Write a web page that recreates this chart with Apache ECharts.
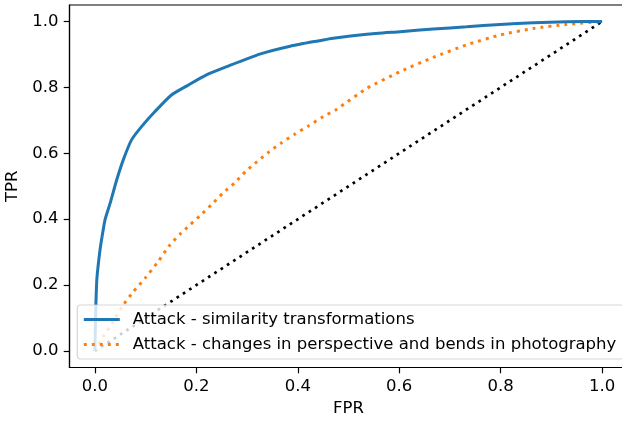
<!DOCTYPE html>
<html>
<head>
<meta charset="utf-8">
<script src="https://cdn.jsdelivr.net/npm/echarts@6/dist/echarts.min.js"></script>
<style>html,body{margin:0;padding:0;background:#fff;}#c{width:622px;height:421px;}</style>
</head>
<body>
<div id="c"></div>
<script>
const tickValues = [0, 0.2, 0.4, 0.6, 0.8, 1.0];
const seriesNames = ['Attack - similarity transformations', 'Attack - changes in perspective and bends in photography'];

const fprSim = [0, 0.001, 0.002, 0.004, 0.010, 0.014, 0.020, 0.030, 0.043, 0.056, 0.072, 0.092, 0.118, 0.151, 0.184, 0.220, 0.260, 0.325, 0.385, 0.440, 0.470, 0.536, 0.602, 0.667, 0.733, 0.799, 0.865, 0.930, 1.0];
const tprSim = [0, 0.07, 0.14, 0.22, 0.305, 0.345, 0.398, 0.448, 0.519, 0.580, 0.640, 0.681, 0.726, 0.777, 0.807, 0.838, 0.863, 0.901, 0.925, 0.941, 0.949, 0.961, 0.969, 0.977, 0.984, 0.991, 0.996, 0.999, 1.0];

const fprPersp = [0, 0.016, 0.036, 0.056, 0.076, 0.099, 0.125, 0.146, 0.168, 0.187, 0.209, 0.231, 0.253, 0.276, 0.298, 0.320, 0.344, 0.368, 0.394, 0.421, 0.450, 0.477, 0.536, 0.602, 0.667, 0.733, 0.799, 0.865, 0.930, 1.0];
const tprPersp = [0, 0.043, 0.089, 0.140, 0.180, 0.221, 0.272, 0.318, 0.355, 0.382, 0.413, 0.446, 0.480, 0.511, 0.546, 0.575, 0.605, 0.632, 0.658, 0.683, 0.711, 0.734, 0.797, 0.848, 0.891, 0.929, 0.959, 0.979, 0.991, 1.0];

const fprChance = [0, 1];
const tprChance = [0, 1];

const zip = (a, b) => a.map((v, i) => [v, b[i]]);
const font = 'DejaVu Sans';
const fs = 16.5;

const chart = echarts.init(document.getElementById('c'), null, {renderer: 'canvas'});
chart.setOption({
  animation: false,
  backgroundColor: '#fff',
  grid: {left: 69.5, top: 5, width: 558, height: 362.5, show: true, borderColor: '#000', borderWidth: 1.2, backgroundColor: 'transparent', outerBoundsMode: 'none', containLabel: false},
  xAxis: {
    type: 'value', min: -0.05, max: 1.05,
    name: 'FPR', nameLocation: 'middle', nameGap: 33,
    nameTextStyle: {fontFamily: font, fontSize: fs, color: '#000'},
    axisLine: {show: true, onZero: false, lineStyle: {color: '#000', width: 1.2}},
    axisTick: {show: true, length: 5.8, customValues: tickValues, lineStyle: {color: '#000', width: 1.2}},
    axisLabel: {customValues: tickValues, margin: 11, fontFamily: font, fontSize: fs, color: '#000', formatter: v => v.toFixed(1)},
    splitLine: {show: false}
  },
  yAxis: {
    type: 'value', min: -0.05, max: 1.05,
    name: 'TPR', nameLocation: 'middle', nameGap: 42, nameRotate: 90,
    nameTextStyle: {fontFamily: font, fontSize: fs, color: '#000'},
    axisLine: {show: true, onZero: false, lineStyle: {color: '#000', width: 1.2}},
    axisTick: {show: true, length: 5.8, customValues: tickValues, lineStyle: {color: '#000', width: 1.2}},
    axisLabel: {customValues: tickValues, margin: 11, fontFamily: font, fontSize: fs, color: '#000', formatter: v => v.toFixed(1)},
    splitLine: {show: false}
  },
  legend: {
    data: seriesNames,
    orient: 'vertical', left: 77.3, top: 305,
    padding: [6, 12, 6, 5],
    itemWidth: 36, itemHeight: 17, itemGap: 8,
    backgroundColor: 'rgba(255,255,255,0.8)',
    borderColor: 'rgba(204,204,204,0.8)', borderWidth: 1.2, borderRadius: 3,
    itemStyle: {opacity: 0},
    lineStyle: {width: 3},
    textStyle: {fontFamily: font, fontSize: fs, color: '#000', lineHeight: 17, padding: [0, 0, 0, 8]},
    selectedMode: false
  },
  series: [
    {
      name: seriesNames[0], type: 'line', data: zip(fprSim, tprSim),
      symbol: 'none', smooth: 0.2, z: 3,
      lineStyle: {color: '#1f77b4', width: 3},
      itemStyle: {color: '#1f77b4'}
    },
    {
      name: seriesNames[1], type: 'line', data: zip(fprPersp, tprPersp),
      symbol: 'none', smooth: 0.2, z: 2,
      lineStyle: {color: '#ff7f0e', width: 3, type: [3, 5]},
      itemStyle: {color: '#ff7f0e'}
    },
    {
      name: 'chance', type: 'line', data: zip(fprChance, tprChance),
      symbol: 'none', z: 1,
      lineStyle: {color: '#000', width: 2.7, type: [2.7, 4.8]},
      itemStyle: {color: '#000'}
    }
  ]
});
</script>
</body>
</html>
